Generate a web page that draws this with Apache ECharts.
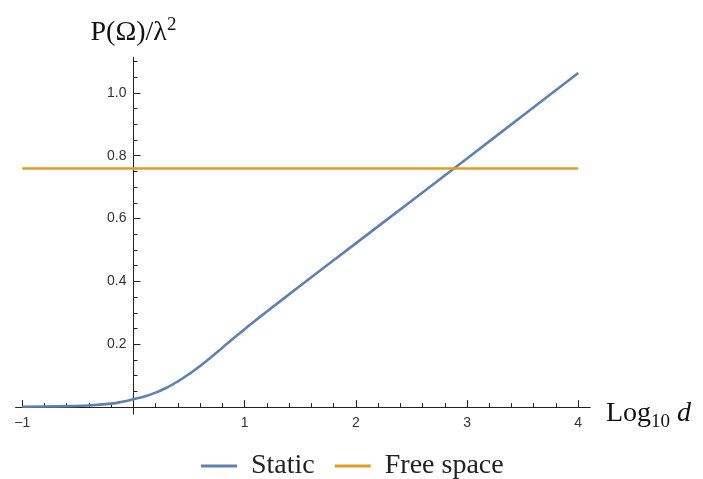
<!DOCTYPE html>
<html>
<head>
<meta charset="utf-8">
<script src="https://cdn.jsdelivr.net/npm/echarts@6/dist/echarts.min.js"></script>
<style>
html,body{margin:0;padding:0;background:#fff;}
#chart{width:703px;height:479px;}
</style>
</head>
<body>
<div id="chart"></div>
<script>
// ---- data ----
const staticX = [-1, -0.8, -0.6, -0.4, -0.2, -0.1, 0, 0.1, 0.2, 0.3, 0.4, 0.5, 0.6, 0.7, 0.8, 0.9, 1.0, 1.1, 1.2, 1.5, 2.0, 2.5, 3.0, 3.5, 4.0];
const staticY = [0.001, 0.002, 0.003, 0.005, 0.011, 0.017, 0.025, 0.034, 0.046, 0.062, 0.082, 0.105, 0.131, 0.159, 0.189, 0.219, 0.248, 0.2765, 0.304, 0.386, 0.521, 0.656, 0.791, 0.927, 1.063];
const freeX = [-1, 4];
const freeY = [0.759, 0.759];
const seriesNames = ['Static', 'Free space'];
const xMajorTicks = [-1, 1, 2, 3, 4];
const xMinorTicks = [-0.8, -0.6, -0.4, -0.2, 0.2, 0.4, 0.6, 0.8, 1.2, 1.4, 1.6, 1.8, 2.2, 2.4, 2.6, 2.8, 3.2, 3.4, 3.6, 3.8];
const yMajorTicks = [0.2, 0.4, 0.6, 0.8, 1.0];
const yMinorTicks = [0.05, 0.1, 0.15, 0.25, 0.3, 0.35, 0.45, 0.5, 0.55, 0.65, 0.7, 0.75, 0.85, 0.9, 0.95, 1.05, 1.1];

// axis ranges (slightly padded as in the reference)
const xMin = -1.058, xMax = 4.106;
const yMin = -0.022, yMax = 1.113;

const blue = '#5E81B5';
const orange = '#E19C24';
const axisColor = '#222';
const labelFont = {fontFamily: 'Liberation Sans', fontSize: 14, color: '#333'};
const serif = 'Liberation Serif';

const W = 703, H = 479;
const grid = {left: 15.8, right: 113, top: 57.3, bottom: 65};
// place axes at the zero crossing of the other axis
const plotW = W - grid.left - grid.right;
const plotH = H - grid.top - grid.bottom;
const yAxisOffset = -((0 - xMin) / (xMax - xMin)) * plotW;
const xAxisOffset = -((0 - yMin) / (yMax - yMin)) * plotH;

const chart = echarts.init(document.getElementById('chart'), null, {renderer: 'canvas'});
const baseX = {
  type: 'value', min: xMin, max: xMax, position: 'bottom', offset: xAxisOffset,
  splitLine: {show: false},
  axisLine: {onZero: false, lineStyle: {color: axisColor, width: 1}}
};
const baseY = {
  type: 'value', min: yMin, max: yMax, position: 'left', offset: yAxisOffset,
  splitLine: {show: false},
  axisLine: {onZero: false, lineStyle: {color: axisColor, width: 1}}
};
chart.setOption({
  animation: false,
  backgroundColor: '#fff',
  grid: Object.assign({containLabel: false, outerBoundsMode: 'none'}, grid),
  legend: {
    data: seriesNames,
    left: 196, top: 447,
    icon: 'rect', itemWidth: 36, itemHeight: 3, itemGap: 20,
    textStyle: {fontFamily: serif, fontSize: 28, color: '#222', padding: [0, 0, 0, 9]}
  },
  xAxis: [
    Object.assign({}, baseX, {
      name: '{a|Log}{b|10}{a| }{c|d}',
      nameLocation: 'end', nameGap: 16,
      nameTextStyle: {
        padding: [14, 0, 0, 0],
        rich: {
          a: {fontFamily: serif, fontSize: 28, color: '#111', lineHeight: 34, verticalAlign: 'middle'},
          b: {fontFamily: serif, fontSize: 19, color: '#111', lineHeight: 34, verticalAlign: 'bottom'},
          c: {fontFamily: serif, fontSize: 28, fontStyle: 'italic', color: '#111', lineHeight: 34, verticalAlign: 'middle'}
        }
      },
      axisTick: {show: true, inside: true, length: 7, customValues: xMajorTicks, lineStyle: {color: axisColor}},
      axisLabel: Object.assign({show: true, margin: 9, customValues: xMajorTicks, formatter: v => (v < 0 ? '\u2212' + Math.abs(v) : String(v))}, labelFont)
    }),
    Object.assign({}, baseX, {
      axisTick: {show: true, inside: true, length: 4, customValues: xMinorTicks, lineStyle: {color: axisColor}},
      axisLabel: {show: false}
    })
  ],
  yAxis: [
    Object.assign({}, baseY, {
      name: '{a|P(Ω)/λ}{s|2}',
      nameLocation: 'end', nameGap: 8,
      nameTextStyle: {
        rich: {
          a: {fontFamily: serif, fontSize: 28, color: '#111', lineHeight: 34, verticalAlign: 'middle'},
          s: {fontFamily: serif, fontSize: 19, color: '#111', lineHeight: 34, verticalAlign: 'top'}
        }
      },
      axisTick: {show: true, inside: true, length: 7, customValues: yMajorTicks, lineStyle: {color: axisColor}},
      axisLabel: Object.assign({show: true, margin: 7, customValues: yMajorTicks, formatter: v => v.toFixed(1)}, labelFont)
    }),
    Object.assign({}, baseY, {
      axisTick: {show: true, inside: true, length: 4, customValues: yMinorTicks, lineStyle: {color: axisColor}},
      axisLabel: {show: false}
    })
  ],
  series: [
    {
      name: seriesNames[0], type: 'line', xAxisIndex: 0, yAxisIndex: 0,
      data: staticX.map((x, i) => [x, staticY[i]]),
      smooth: 0.5, symbol: 'none', color: blue,
      lineStyle: {color: blue, width: 2.6}
    },
    {
      name: seriesNames[1], type: 'line', xAxisIndex: 0, yAxisIndex: 0,
      data: freeX.map((x, i) => [x, freeY[i]]),
      symbol: 'none', color: orange,
      lineStyle: {color: orange, width: 2.6}
    }
  ]
});
</script>
</body>
</html>
